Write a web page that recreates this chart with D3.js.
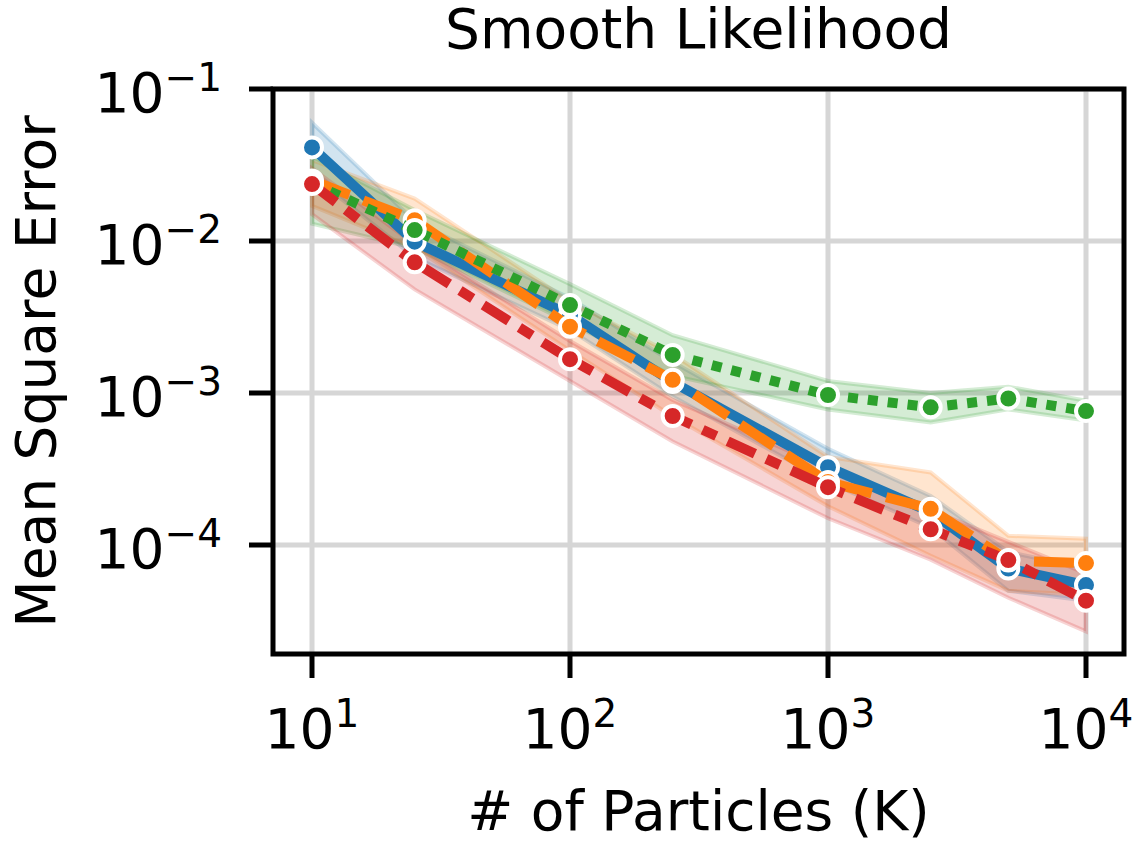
<!DOCTYPE html>
<html>
<head>
<meta charset="utf-8">
<script src="https://d3js.org/d3.v7.min.js"></script>
<style>
  body { margin: 0; background: #fff; }
  svg text { font-family: "DejaVu Sans", sans-serif; fill: #000; }
</style>
</head>
<body>
<svg id="chart" width="1136" height="845"></svg>
<script>
// particle counts (K)
var particles = [10, 25, 100, 250, 1000, 2500, 5000, 10000];

// mean square error, one array per run
var blueMean   = [0.0413, 0.0099, 0.00326, 0.00118, 3.25e-4, 1.65e-4, 7.0e-5, 5.45e-5];
var orangeMean = [0.0250, 0.0137, 0.00273, 0.00122, 2.6e-4, 1.73e-4, 7.9e-5, 7.6e-5];
var greenMean  = [0.0240, 0.0118, 0.00379, 0.00178, 9.7e-4, 8.05e-4, 9.2e-4, 7.6e-4];
var redMean    = [0.0237, 0.00724, 0.00167, 7.06e-4, 2.4e-4, 1.27e-4, 7.96e-5, 4.3e-5];

// error bands
var blueLo   = [0.027, 0.0078, 0.0026, 0.00095, 2.6e-4, 1.3e-4, 5.0e-5, 4.3e-5];
var blueHi   = [0.060, 0.0135, 0.0042, 0.0016, 4.3e-4, 2.1e-4, 9.0e-5, 7.0e-5];
var orangeLo = [0.017, 0.009, 0.0019, 0.0007, 1.8e-4, 8.5e-5, 5.0e-5, 4.7e-5];
var orangeHi = [0.034, 0.019, 0.0040, 0.0018, 3.8e-4, 3.0e-4, 1.15e-4, 1.1e-4];
var greenLo  = [0.013, 0.009, 0.0029, 0.0013, 7.8e-4, 6.4e-4, 7.8e-4, 6.6e-4];
var greenHi  = [0.036, 0.016, 0.0052, 0.0024, 1.2e-3, 1.0e-3, 1.1e-3, 8.9e-4];
var redLo    = [0.015, 0.0048, 0.0012, 0.00048, 1.5e-4, 8.0e-5, 4.5e-5, 2.7e-5];
var redHi    = [0.030, 0.0095, 0.0022, 0.0009, 3.2e-4, 1.7e-4, 1.05e-4, 6.5e-5];

var xTicks = [10, 100, 1000, 10000];
var xTickExp = ["1", "2", "3", "4"];
var yTicks = [1e-1, 1e-2, 1e-3, 1e-4];
var yTickExp = ["\u22121", "\u22122", "\u22123", "\u22124"];

var seriesList = [
  {mean: blueMean,   lo: blueLo,   hi: blueHi,   color: "#1f77b4", dash: null},
  {mean: orangeMean, lo: orangeLo, hi: orangeHi, color: "#ff7f0e", dash: [4, 1.5]},
  {mean: greenMean,  lo: greenLo,  hi: greenHi,  color: "#2ca02c", dash: [1, 1]},
  {mean: redMean,    lo: redLo,    hi: redHi,    color: "#d62728", dash: [3, 1.25, 1.5, 1.25]}
];

var pLeft = 273, pRight = 1124, pTop = 89, pBottom = 654;
var lw = 10;

var xScale = d3.scaleLog()
  .domain([Math.pow(10, 1 - 39 / 258), Math.pow(10, 4 + 38 / 258)])
  .range([pLeft, pRight]);
var yScale = d3.scaleLog()
  .domain([Math.pow(10, -4 - 109 / 152), 0.1])
  .range([pBottom, pTop]);

var svg = d3.select("#chart");

// grid
var grid = svg.append("g").attr("class", "grid");
grid.selectAll(".gx").data(xTicks).enter().append("line")
  .attr("x1", d => xScale(d)).attr("x2", d => xScale(d))
  .attr("y1", pTop).attr("y2", pBottom)
  .attr("stroke", "#d6d6d6").attr("stroke-width", 5);
grid.selectAll(".gy").data(yTicks).enter().append("line")
  .attr("x1", pLeft).attr("x2", pRight)
  .attr("y1", d => yScale(d)).attr("y2", d => yScale(d))
  .attr("stroke", "#d6d6d6").attr("stroke-width", 5);

var plot = svg.append("g");

// bands under everything
var area = d3.area()
  .x((d, i) => xScale(particles[i]))
  .y0(d => yScale(d[0]))
  .y1(d => yScale(d[1]));
seriesList.forEach(function(s) {
  var pts = s.lo.map((v, i) => [v, s.hi[i]]);
  plot.append("path")
    .attr("d", area(pts))
    .attr("fill", s.color).attr("fill-opacity", 0.2)
    .attr("stroke", s.color).attr("stroke-opacity", 0.2)
    .attr("stroke-width", 4);
});

// lines + markers
var line = d3.line()
  .x((d, i) => xScale(particles[i]))
  .y(d => yScale(d));
seriesList.forEach(function(s) {
  var p = plot.append("path")
    .attr("d", line(s.mean))
    .attr("fill", "none")
    .attr("stroke", s.color)
    .attr("stroke-width", lw)
    .attr("stroke-linejoin", "round");
  if (s.dash) {
    p.attr("stroke-dasharray", s.dash.map(v => v * lw).join(","))
     .attr("stroke-linecap", "butt");
  } else {
    p.attr("stroke-linecap", "square");
  }
  plot.selectAll(null).data(s.mean).enter().append("circle")
    .attr("cx", (d, i) => xScale(particles[i]))
    .attr("cy", d => yScale(d))
    .attr("r", 10)
    .attr("fill", s.color)
    .attr("stroke", "#fff")
    .attr("stroke-width", 4);
});

// spines
svg.append("rect")
  .attr("x", pLeft).attr("y", pTop)
  .attr("width", pRight - pLeft).attr("height", pBottom - pTop)
  .attr("fill", "none").attr("stroke", "#000").attr("stroke-width", 5);

// x ticks
var xt = svg.append("g");
xt.selectAll("line").data(xTicks).enter().append("line")
  .attr("x1", d => xScale(d)).attr("x2", d => xScale(d))
  .attr("y1", pBottom).attr("y2", pBottom + 24)
  .attr("stroke", "#000").attr("stroke-width", 5);
var xl = xt.selectAll("text").data(xTicks).enter().append("text")
  .attr("x", d => xScale(d)).attr("y", 748)
  .attr("text-anchor", "middle")
  .style("font-size", "55px");
xl.append("tspan").text("10");
xl.append("tspan").attr("dy", -21).style("font-size", "39px").text((d, i) => xTickExp[i]);

// y ticks
var yt = svg.append("g");
yt.selectAll("line").data(yTicks).enter().append("line")
  .attr("x1", pLeft - 24).attr("x2", pLeft)
  .attr("y1", d => yScale(d)).attr("y2", d => yScale(d))
  .attr("stroke", "#000").attr("stroke-width", 5);
var yl = yt.selectAll("text").data(yTicks).enter().append("text")
  .attr("x", 222).attr("y", d => yScale(d) + 23)
  .attr("text-anchor", "end")
  .style("font-size", "55px");
yl.append("tspan").text("10");
yl.append("tspan").attr("dy", -21).style("font-size", "39px").text((d, i) => yTickExp[i]);

// labels
svg.append("text")
  .attr("x", (pLeft + pRight) / 2).attr("y", 48)
  .attr("text-anchor", "middle").style("font-size", "55px")
  .text("Smooth Likelihood");
svg.append("text")
  .attr("x", (pLeft + pRight) / 2).attr("y", 830)
  .attr("text-anchor", "middle").style("font-size", "55px")
  .text("# of Particles (K)");
svg.append("text")
  .attr("transform", "translate(55," + ((pTop + pBottom) / 2) + ") rotate(-90)")
  .attr("text-anchor", "middle").style("font-size", "55px")
  .text("Mean Square Error");
</script>
</body>
</html>
